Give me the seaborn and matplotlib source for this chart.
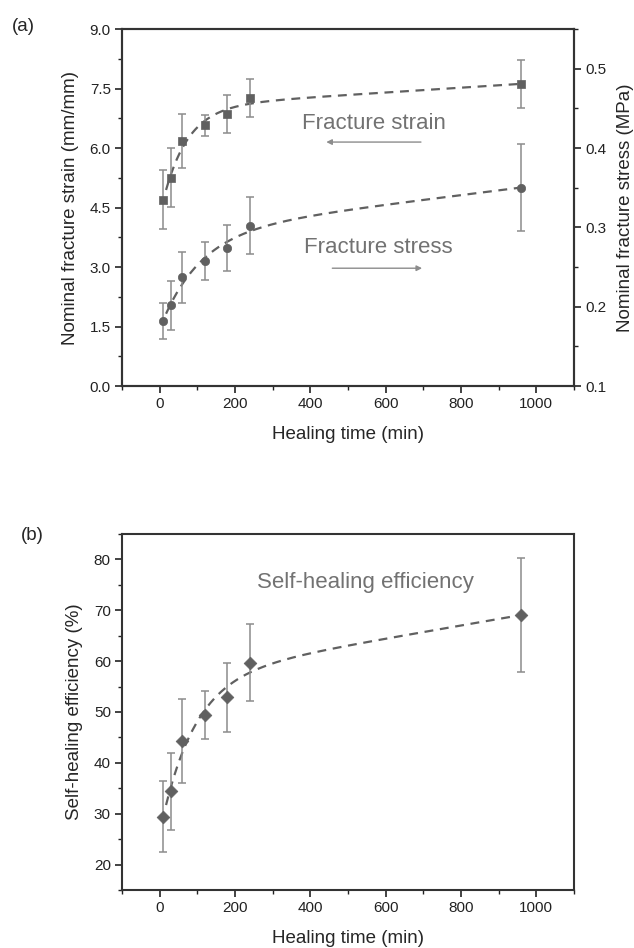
import numpy as np
import pandas as pd
import matplotlib
matplotlib.use("Agg")
import matplotlib.pyplot as plt
from matplotlib.ticker import MultipleLocator, FormatStrFormatter
import seaborn as sns

# ---- data ----
healing_time = [10, 30, 60, 120, 180, 240, 960]
strain = [4.70, 5.25, 6.18, 6.57, 6.85, 7.27, 7.61]
strain_err = [0.75, 0.74, 0.69, 0.27, 0.48, 0.48, 0.61]
stress = [0.182, 0.202, 0.237, 0.258, 0.274, 0.302, 0.350]
stress_err = [0.023, 0.031, 0.032, 0.024, 0.029, 0.036, 0.055]
efficiency = [29.4, 34.4, 44.3, 49.4, 52.9, 59.7, 69.0]
efficiency_err = [7.0, 7.6, 8.2, 4.8, 6.8, 7.6, 11.2]

sns.set_theme(style="ticks")
plt.rcParams['font.family'] = ['Liberation Sans', 'DejaVu Sans']

MARK = "#606060"
ERR = "#8c8c8c"
TXT = "#727272"


def fit_curve(x, y, x_start=17):
    """least-squares fit y = a + d*x + c*exp(-x/tau), tau chosen by grid search"""
    x = np.asarray(x, float)
    y = np.asarray(y, float)
    best = None
    for tau in np.linspace(10, 300, 581):
        A = np.column_stack([np.ones_like(x), x, np.exp(-x / tau)])
        coef, *_ = np.linalg.lstsq(A, y, rcond=None)
        r = np.sum((A @ coef - y) ** 2)
        if best is None or r < best[0]:
            best = (r, tau, coef)
    _, tau, coef = best
    xs = np.linspace(x_start, x.max(), 400)
    return xs, coef[0] + coef[1] * xs + coef[2] * np.exp(-xs / tau)


fig = plt.figure(figsize=(6.34, 9.48), dpi=100)
ax1 = fig.add_axes([0.1924, 0.5928, 0.713, 0.3766])
ax2 = ax1.twinx()
ax3 = fig.add_axes([0.1924, 0.0612, 0.713, 0.3755])

df = pd.DataFrame(dict(t=healing_time, strain=strain, stress=stress, eff=efficiency))
DASH = (0, (4, 3))

# ---- panel (a) ----
xs, ys = fit_curve(healing_time, strain)
sns.lineplot(x=xs, y=ys, ax=ax1, color=MARK, linestyle=DASH, lw=1.6)
ax1.errorbar(healing_time, strain, yerr=strain_err, fmt="none", ecolor=ERR,
             elinewidth=1.1, capsize=2.6, capthick=1.1)
sns.scatterplot(data=df, x="t", y="strain", ax=ax1, marker="s", s=30,
                color=MARK, edgecolor=MARK, linewidth=0.5, zorder=5)

xs, ys = fit_curve(healing_time, stress)
sns.lineplot(x=xs, y=ys, ax=ax2, color=MARK, linestyle=DASH, lw=1.6)
ax2.errorbar(healing_time, stress, yerr=stress_err, fmt="none", ecolor=ERR,
             elinewidth=1.1, capsize=2.6, capthick=1.1)
sns.scatterplot(data=df, x="t", y="stress", ax=ax2, marker="o", s=36,
                color=MARK, edgecolor=MARK, linewidth=0.5, zorder=5)

ax1.set_xlim(-100, 1100)
ax1.set_ylim(0, 9.0)
ax2.set_ylim(0.1, 0.55)
ax1.yaxis.set_major_locator(MultipleLocator(1.5))
ax1.yaxis.set_minor_locator(MultipleLocator(0.75))
ax2.yaxis.set_major_locator(MultipleLocator(0.1))
ax2.yaxis.set_minor_locator(MultipleLocator(0.05))
ax1.yaxis.set_major_formatter(FormatStrFormatter("%.1f"))
ax2.yaxis.set_major_formatter(FormatStrFormatter("%.1f"))
ax1.set_ylabel("Nominal fracture strain (mm/mm)", fontsize=13.5, labelpad=7.5)
ax2.set_ylabel("Nominal fracture stress (MPa)", fontsize=13.5, labelpad=8)
ax1.set_xlabel("Healing time (min)", fontsize=13.5, labelpad=10.5)

ax1.text(568, 6.63, "Fracture strain", color=TXT, fontsize=16, ha="center", va="center")
ax1.annotate("", xy=(435, 6.15), xytext=(701, 6.15),
             arrowprops=dict(arrowstyle="-|>", color=ERR, lw=1.0, mutation_scale=8))
ax1.text(581, 3.48, "Fracture stress", color=TXT, fontsize=16, ha="center", va="center")
ax1.annotate("", xy=(704, 2.97), xytext=(451, 2.97),
             arrowprops=dict(arrowstyle="-|>", color=ERR, lw=1.0, mutation_scale=8))

# ---- panel (b) ----
xs, ys = fit_curve(healing_time, efficiency)
sns.lineplot(x=xs, y=ys, ax=ax3, color=MARK, linestyle=DASH, lw=1.6)
ax3.errorbar(healing_time, efficiency, yerr=efficiency_err, fmt="none", ecolor=ERR,
             elinewidth=1.1, capsize=2.6, capthick=1.1)
sns.scatterplot(data=df, x="t", y="eff", ax=ax3, marker="D", s=42,
                color=MARK, edgecolor=MARK, linewidth=0.5, zorder=5)
ax3.set_xlim(-100, 1100)
ax3.set_ylim(15, 85)
ax3.yaxis.set_major_locator(MultipleLocator(10))
ax3.yaxis.set_minor_locator(MultipleLocator(5))
ax3.set_ylabel("Self-healing efficiency (%)", fontsize=13.5, labelpad=8)
ax3.set_xlabel("Healing time (min)", fontsize=13.5, labelpad=10.5)
ax3.text(547, 75.5, "Self-healing efficiency", color=TXT, fontsize=16, ha="center", va="center")

for ax in (ax1, ax3):
    ax.xaxis.set_major_locator(MultipleLocator(200))
    ax.xaxis.set_minor_locator(MultipleLocator(100))

for ax in (ax1, ax2, ax3):
    for sp in ax.spines.values():
        sp.set_visible(True)
        sp.set_linewidth(1.5)
        sp.set_color("#333333")
    ax.tick_params(which="major", direction="out", length=5, width=1.2,
                   labelsize=11, colors="#222222", pad=3)
    ax.tick_params(which="minor", direction="out", length=3, width=1.0, colors="#222222")
    ax.grid(False)
ax2.tick_params(axis="y", which="both", left=False)

fig.text(0.018, 0.972, "(a)", fontsize=13.5, ha="left", va="center")
fig.text(0.033, 0.435, "(b)", fontsize=13.5, ha="left", va="center")

fig.savefig("out.png", dpi=100)
